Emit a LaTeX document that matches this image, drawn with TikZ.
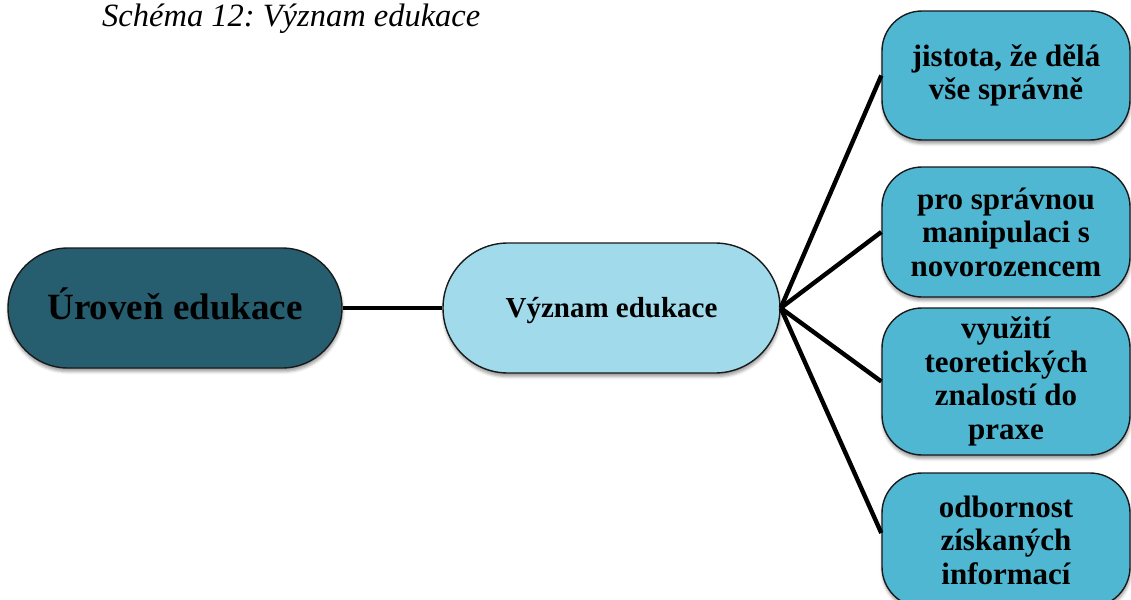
\documentclass[tikz,border=0pt]{standalone}
\usepackage{fontspec}
\setmainfont{Liberation Serif}
\usetikzlibrary{shadows.blur}

\definecolor{deepteal}{HTML}{265E6F}
\definecolor{paleblue}{HTML}{A1DAEA}
\definecolor{midblue}{HTML}{4FB7D1}
\definecolor{rim}{HTML}{1A1A1A}

\newcommand{\nudge}[2]{\raisebox{#1}[\height][\depth]{#2}}

\tikzset{
  bubble/.style={draw=rim, line width=1.4pt, inner sep=0pt, align=center,
    blur shadow={shadow xshift=0.5pt, shadow yshift=-3.5pt,
                 shadow opacity=40, shadow blur radius=3pt}},
  rootbox/.style={bubble, fill=deepteal, minimum width=334pt, minimum height=120pt,
    rounded corners=60pt, font=\fontsize{37}{40}\selectfont\bfseries},
  hubbox/.style={bubble, fill=paleblue, minimum width=337pt, minimum height=130pt,
    rounded corners=65pt, font=\fontsize{29}{32}\selectfont\bfseries},
  leafbox/.style={bubble, fill=midblue, minimum width=248pt,
    rounded corners=40pt, font=\fontsize{31}{33.5}\selectfont\bfseries},
  link/.style={draw=black, line width=4.4pt}
}

\begin{document}
\frenchspacing
\begin{tikzpicture}[x=1pt, y=-1pt]
  \useasboundingbox (0,0) rectangle (1131,599);

  % caption
  \node[anchor=base west, inner sep=0pt, font=\fontsize{32.5}{36}\selectfont\itshape]
    (caption) at (102,27) {Schéma 12: Význam edukace};

  % main chain
  \node[rootbox] (root) at (175,308) {\nudge{4pt}{Úroveň edukace}};
  \node[hubbox] (hub) at (611.5,308) {\nudge{-3pt}{Význam edukace}};

  % outcomes
  \node[leafbox, minimum height=129pt] (b1) at (1006,75.5)
    {jistota, že dělá\\vše správně};
  \node[leafbox, minimum height=130pt] (b2) at (1006,232)
    {pro správnou\\manipulaci s\\novorozencem};
  \node[leafbox, minimum height=147pt] (b3) at (1006,381.5)
    {využití\\teoretických\\znalostí do\\praxe};
  \node[leafbox, minimum height=134pt] (b4) at (1006,540)
    {odbornost\\získaných\\informací};

  % connectors
  \draw[link] (root.east) -- (hub.west);
  \draw[link] (hub.east) -- (b1.west);
  \draw[link] (hub.east) -- (b2.west);
  \draw[link] (hub.east) -- (b3.west);
  \draw[link] (hub.east) -- ([yshift=7pt]b4.west);
\end{tikzpicture}
\end{document}
